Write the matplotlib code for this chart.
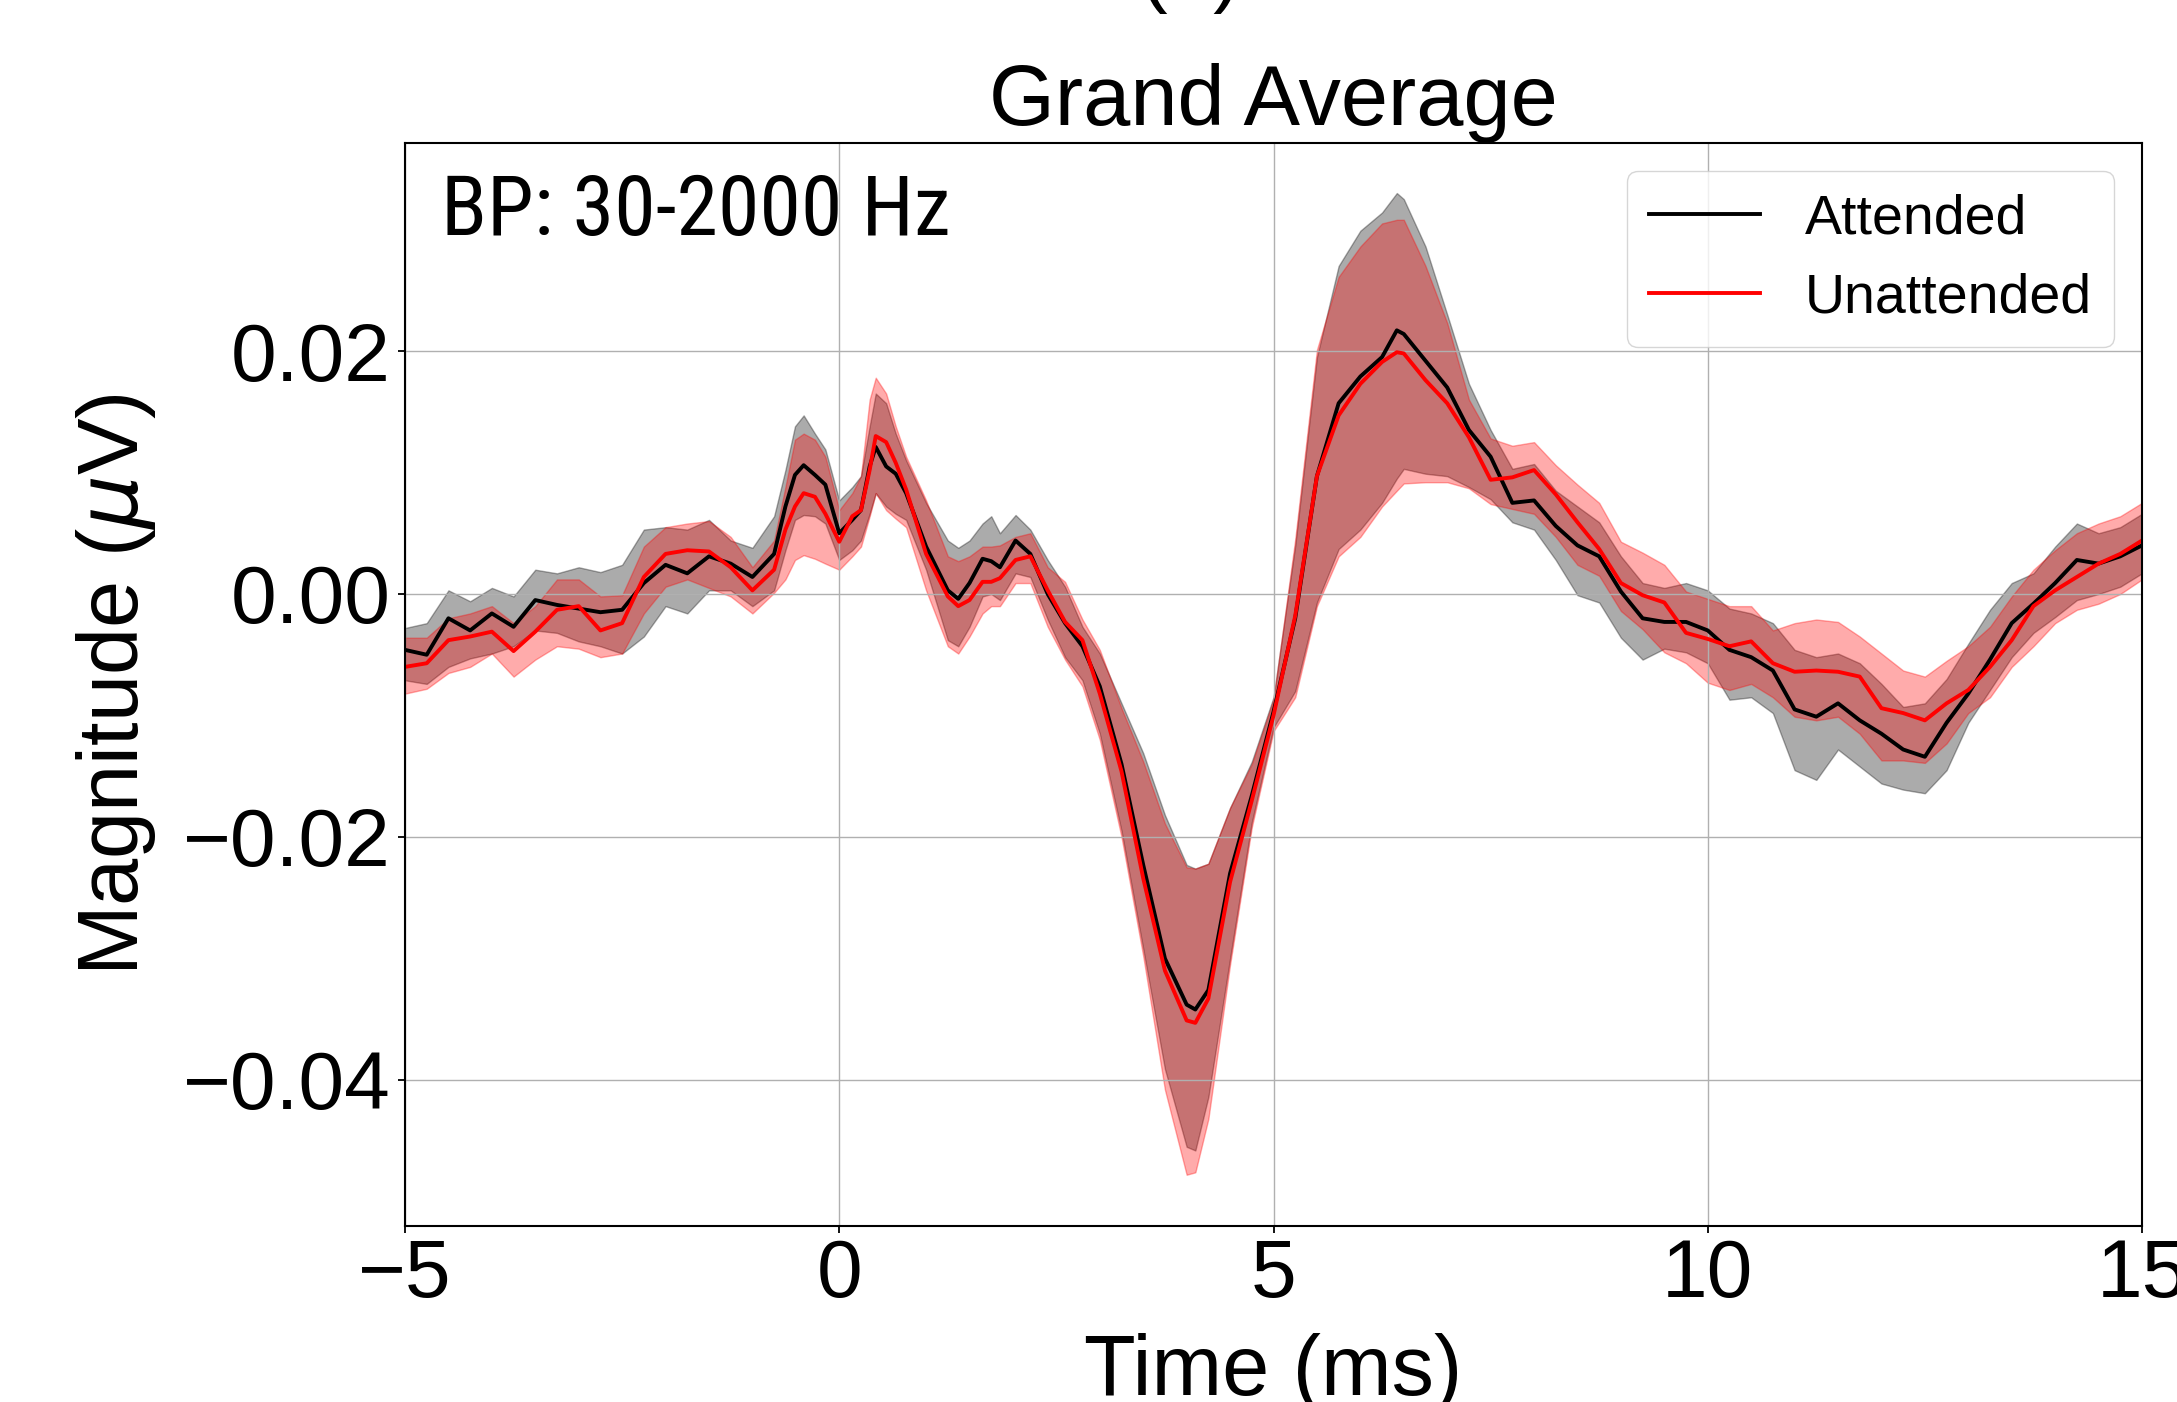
import numpy as np
import matplotlib
matplotlib.use("Agg")
import matplotlib.pyplot as plt
from matplotlib import font_manager as fm

# ---------------- data (values in units of 1e-3 uV) ----------------
time_ms = [-5.00, -4.75, -4.50, -4.25, -4.00, -3.75, -3.50, -3.25, -3.00, -2.75,
           -2.50, -2.25, -2.00, -1.75, -1.50, -1.25, -1.00, -0.75, -0.62, -0.51,
           -0.41, -0.28, -0.16, 0.00, 0.15, 0.25, 0.35, 0.42, 0.54, 0.65,
           0.77, 1.00, 1.25, 1.37, 1.50, 1.65, 1.75, 1.85, 2.03, 2.20,
           2.40, 2.60, 2.80, 3.00, 3.25, 3.50, 3.75, 4.00, 4.10, 4.25,
           4.50, 4.75, 5.00, 5.25, 5.50, 5.75, 6.00, 6.25, 6.42, 6.50,
           6.75, 7.00, 7.25, 7.50, 7.75, 8.00, 8.25, 8.50, 8.75, 9.00,
           9.25, 9.50, 9.75, 10.00, 10.25, 10.50, 10.75, 11.00, 11.25, 11.50,
           11.75, 12.00, 12.25, 12.50, 12.75, 13.00, 13.25, 13.50, 13.75, 14.00,
           14.25, 14.50, 14.75, 15.00]

att_hi = [-2.8, -2.4, 0.3, -0.6, 0.5, -0.2, 2.0, 1.7, 2.2, 1.8,
          2.4, 5.3, 5.5, 5.3, 6.1, 4.4, 3.8, 6.4, 10.2, 13.8,
          14.7, 13.2, 11.9, 7.7, 8.8, 9.7, 13.8, 16.5, 15.7, 13.2,
          11.0, 7.5, 4.4, 3.8, 4.4, 5.8, 6.4, 5.0, 6.5, 5.3,
          2.8, 0.6, -2.7, -4.9, -9.0, -13.1, -18.2, -22.3, -22.6, -22.2,
          -17.6, -13.8, -8.5, 4.0, 19.5, 27.0, 29.9, 31.4, 33.0, 32.5,
          28.6, 23.0, 17.3, 13.5, 10.3, 10.7, 8.5, 7.2, 5.9, 3.1,
          0.9, 0.5, 0.9, 0.3, -1.2, -1.6, -2.4, -4.6, -5.2, -4.9,
          -5.7, -7.4, -9.3, -9.0, -7.0, -4.1, -1.3, 0.9, 1.7, 3.9,
          5.8, 5.0, 5.5, 6.6]

att_mean = [-4.6, -5.0, -2.0, -3.0, -1.6, -2.7, -0.5, -0.9, -1.2, -1.5,
            -1.3, 0.9, 2.4, 1.7, 3.1, 2.5, 1.4, 3.3, 7.2, 9.8,
            10.6, 9.8, 9.0, 5.0, 6.1, 6.9, 10.5, 12.1, 10.5, 9.9,
            8.3, 3.9, 0.3, -0.4, 0.9, 2.9, 2.7, 2.2, 4.4, 3.3,
            0.0, -2.4, -4.3, -7.6, -14.0, -22.3, -30.0, -33.8, -34.2, -32.6,
            -23.0, -16.6, -9.7, -2.0, 9.7, 15.7, 17.9, 19.5, 21.7, 21.4,
            19.2, 17.0, 13.5, 11.3, 7.5, 7.7, 5.6, 4.0, 3.1, 0.2,
            -2.0, -2.3, -2.3, -3.0, -4.6, -5.2, -6.3, -9.5, -10.1, -9.0,
            -10.4, -11.5, -12.8, -13.4, -10.6, -8.2, -5.4, -2.4, -0.8, 0.9,
            2.8, 2.5, 3.1, 4.0]

att_lo = [-7.1, -7.4, -6.0, -5.3, -4.9, -4.3, -3.0, -3.2, -3.9, -4.3,
          -4.9, -3.5, -1.0, -1.6, 0.3, 0.3, -1.0, 0.3, 3.6, 6.1,
          6.5, 6.4, 5.8, 2.8, 3.6, 4.4, 6.6, 8.3, 7.2, 6.6,
          6.1, 2.0, -3.8, -4.3, -2.7, -0.2, 0.0, -0.5, 1.7, 1.4,
          -2.1, -5.2, -7.1, -11.5, -19.5, -29.2, -39.1, -45.5, -45.8, -41.4,
          -30.0, -18.8, -11.0, -8.0, -0.7, 3.7, 5.3, 7.5, 9.5, 10.3,
          9.9, 9.7, 8.8, 7.8, 5.9, 5.3, 2.8, -0.1, -0.7, -3.6,
          -5.4, -4.5, -4.8, -5.7, -8.7, -8.5, -9.8, -14.5, -15.3, -12.8,
          -14.2, -15.6, -16.1, -16.4, -14.5, -10.6, -7.9, -5.2, -3.2, -1.9,
          -0.5, 0.0, 0.6, 1.7]

unatt_hi = [-3.6, -3.6, -2.0, -1.6, -1.0, -2.4, -1.0, 1.2, 1.2, -0.2,
            -0.1, 3.9, 5.5, 5.8, 6.0, 4.7, 2.2, 4.4, 8.8, 12.7,
            13.2, 12.7, 11.3, 6.9, 8.3, 9.7, 16.0, 17.8, 16.5, 13.8,
            11.3, 7.7, 3.1, 2.7, 3.1, 3.9, 3.9, 4.0, 4.7, 5.0,
            2.2, 1.0, -2.1, -4.6, -9.4, -13.8, -18.9, -22.5, -22.6, -22.2,
            -17.6, -14.0, -8.7, 4.5, 20.1, 26.1, 28.6, 30.5, 30.8, 30.8,
            27.0, 22.3, 16.0, 12.8, 12.2, 12.5, 10.6, 9.0, 7.5, 4.3,
            3.4, 2.4, 0.2, -0.4, -1.0, -1.0, -3.0, -2.4, -2.1, -2.3,
            -3.5, -4.9, -6.3, -6.8, -5.5, -4.3, -2.7, -0.2, 2.0, 3.6,
            5.0, 5.8, 6.4, 7.5]

unatt_mean = [-6.0, -5.7, -3.8, -3.5, -3.1, -4.7, -3.1, -1.3, -1.0, -3.0,
              -2.4, 1.4, 3.3, 3.6, 3.5, 2.2, 0.3, 2.0, 5.3, 7.2,
              8.3, 8.0, 6.6, 4.3, 6.4, 6.9, 10.2, 13.0, 12.5, 10.8,
              8.6, 3.3, -0.2, -1.0, -0.5, 1.0, 1.0, 1.3, 2.8, 3.1,
              0.3, -2.3, -3.8, -8.2, -14.6, -23.4, -31.0, -35.1, -35.3, -33.3,
              -23.7, -17.0, -10.0, -1.8, 9.7, 14.7, 17.3, 19.1, 19.9, 19.8,
              17.6, 15.7, 12.9, 9.4, 9.6, 10.2, 8.2, 5.9, 3.7, 0.9,
              -0.1, -0.7, -3.2, -3.7, -4.3, -3.9, -5.7, -6.4, -6.3, -6.4,
              -6.8, -9.4, -9.8, -10.4, -9.0, -7.9, -6.0, -3.8, -1.0, 0.3,
              1.4, 2.5, 3.3, 4.4]

unatt_lo = [-8.2, -7.8, -6.5, -6.0, -4.9, -6.8, -5.4, -4.3, -4.5, -5.2,
            -4.9, -1.6, 0.6, 1.2, 0.5, -0.2, -1.6, 0.1, 1.2, 2.8,
            3.2, 2.9, 2.5, 2.0, 3.1, 3.9, 6.4, 8.3, 6.9, 6.2,
            5.5, 0.3, -4.3, -4.9, -3.5, -1.6, -1.0, -1.0, 0.9, 0.9,
            -2.7, -5.4, -7.6, -12.0, -20.0, -29.8, -40.8, -47.8, -47.6, -43.2,
            -30.5, -19.2, -11.3, -8.5, -1.0, 3.1, 4.7, 7.2, 8.5, 9.1,
            9.2, 9.2, 8.7, 7.4, 7.0, 6.6, 4.7, 2.4, 1.5, -1.4,
            -2.9, -4.8, -5.7, -7.3, -7.9, -7.4, -8.5, -10.1, -10.4, -10.1,
            -11.5, -13.7, -13.7, -13.9, -12.3, -9.8, -8.5, -6.0, -4.3, -2.4,
            -1.3, -0.8, 0.0, 1.2]

UNIT = 1e-3  # values above are in units of 1e-3 uV

x_ticks = [-5, 0, 5, 10, 15]
x_ticklabels = ["\u22125", "0", "5", "10", "15"]
y_ticks = [-0.04, -0.02, 0.00, 0.02]
y_ticklabels = ["\u22120.04", "\u22120.02", "0.00", "0.02"]
series_labels = ["Attended", "Unattended"]
annotation = "BP: 30-2000 Hz"


def pick_condensed():
    names = {f.name for f in fm.fontManager.ttflist}
    for cand in ['Roboto Condensed', 'Noto Sans Condensed', 'Open Sans Condensed',
                 'Noto Sans Display Condensed', 'Liberation Sans Narrow',
                 'DejaVu Sans Condensed']:
        if cand in names:
            return cand, 'normal'
    for f in fm.fontManager.ttflist:
        if (f.stretch in ('condensed', 'semi-condensed', 'extra-condensed')
                and f.style == 'normal' and f.weight in (400, 'normal', 'regular')):
            return f.name, f.stretch
    return 'Liberation Sans', 'normal'


# ---------------- figure ----------------
plt.rcParams['font.family'] = ['Liberation Sans', 'DejaVu Sans']
plt.rcParams['mathtext.fontset'] = 'dejavusans'

fig = plt.figure(figsize=(21.77, 14.02), dpi=100)
ax = fig.add_axes([0.18604, 0.12553, 0.79788, 0.77247])

t = np.array(time_ms)
ax.fill_between(t, np.array(att_lo) * UNIT, np.array(att_hi) * UNIT,
                color='k', alpha=0.33)
ax.fill_between(t, np.array(unatt_lo) * UNIT, np.array(unatt_hi) * UNIT,
                color='r', alpha=0.33)
ax.plot(t, np.array(att_mean) * UNIT, color='k', lw=2.8, label=series_labels[0])
ax.plot(t, np.array(unatt_mean) * UNIT, color='r', lw=2.8, label=series_labels[1])

ax.set_xlim(-5, 15)
ax.set_ylim(-0.05202, 0.03712)
ax.set_xticks(x_ticks)
ax.set_xticklabels(x_ticklabels)
ax.set_yticks(y_ticks)
ax.set_yticklabels(y_ticklabels)
ax.tick_params(labelsize=59, length=5, width=1.3)
ax.tick_params(axis='y', pad=5)
ax.grid(True, color='#b0b0b0', lw=1.0)
for sp in ax.spines.values():
    sp.set_linewidth(1.5)

ax.set_title('Grand Average', fontsize=61, pad=12)
ax.set_xlabel('Time (ms)', fontsize=61, labelpad=14)
ax.set_ylabel(r'Magnitude ($\mu$V)', fontsize=61, labelpad=18)

ax.legend(loc='upper right', fontsize=40)

fam, stretch = pick_condensed()
bp = ax.text(0.021, 0.915, annotation, transform=ax.transAxes, fontsize=64,
             family=[fam, 'DejaVu Sans'], fontstretch=stretch,
             va='baseline', ha='left')
fig.canvas.draw()
w = bp.get_window_extent().width
if w > 0:
    bp.set_fontsize(64 * 510.0 / w)

fig.text(0.547, 1.0018, '(a)', fontsize=60, ha='center', va='baseline')

fig.savefig('out.png', dpi=100)
